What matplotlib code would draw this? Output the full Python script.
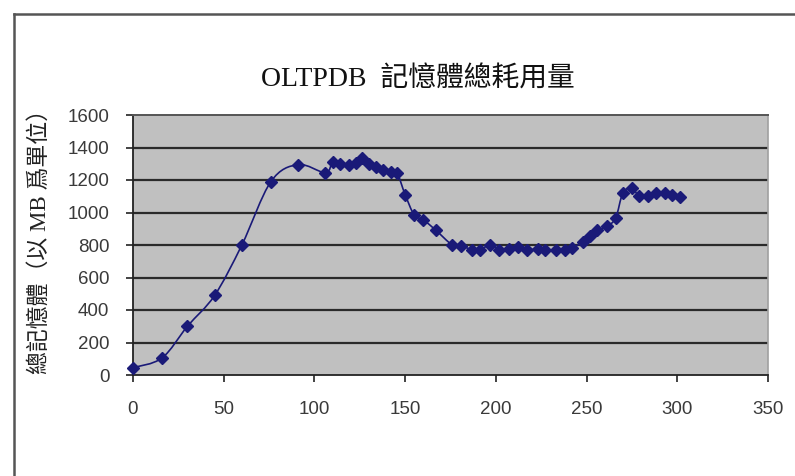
import matplotlib

matplotlib.use("Agg")
import matplotlib.pyplot as plt
import numpy as np
from matplotlib.lines import Line2D
from matplotlib.patches import PathPatch
from matplotlib.path import Path

# elapsed time vs. total memory (MB)
elapsed = [0, 16, 30, 45, 60, 76, 91, 106, 110, 114, 119, 123, 126, 130, 134, 138,
           142, 145.5, 150, 155, 160, 167, 176, 181, 187, 191, 197, 202, 207, 212,
           217, 223, 227, 233, 238, 242, 248, 252, 256, 261, 266, 270, 275, 279,
           284, 288, 293, 297, 301.5]
memory_mb = [45, 105, 300, 490, 800, 1190, 1295, 1245, 1310, 1300, 1295, 1305, 1335,
             1300, 1280, 1260, 1250, 1245, 1110, 985, 955, 890, 800, 795, 770, 770,
             800, 770, 775, 790, 770, 775, 770, 770, 770, 780, 820, 855, 890, 915,
             965, 1120, 1150, 1100, 1100, 1120, 1120, 1105, 1095]

x_ticks = [0, 50, 100, 150, 200, 250, 300, 350]
y_ticks = [0, 200, 400, 600, 800, 1000, 1200, 1400, 1600]

title = "OLTPDB  記憶體總耗用量"
y_label = "總記憶體（以 MB 爲單位）"

NAVY = "#1a1a78"


def smooth_path(ax, xs, ys):
    """Cubic Bezier path through the points (Catmull-Rom style tangents)."""
    pts = ax.transData.transform(np.column_stack([xs, ys]))
    verts = [pts[0]]
    codes = [Path.MOVETO]
    n = len(pts)
    for i in range(n - 1):
        p0 = pts[i - 1] if i > 0 else pts[i]
        p1 = pts[i]
        p2 = pts[i + 1]
        p3 = pts[i + 2] if i + 2 < n else pts[i + 1]
        c1 = p1 + (p2 - p0) / 6.0
        c2 = p2 - (p3 - p1) / 6.0
        verts += [c1, c2, p2]
        codes += [Path.CURVE4] * 3
    return Path(verts, codes)


fig = plt.figure(figsize=(7.95, 4.76), dpi=100)
ax = fig.add_axes([133 / 795, 101 / 476, 635 / 795, 260 / 476])
ax.set_facecolor("#c0c0c0")

ax.set_xlim(0, 350)
ax.set_ylim(0, 1600)
ax.set_xticks(x_ticks)
ax.set_yticks(y_ticks)
ax.tick_params(direction="out", length=5, width=1.2, color="#222222",
               labelsize=13.5)
ax.tick_params(axis="y", pad=12)
ax.tick_params(axis="x", pad=14)
for lab in ax.get_xticklabels() + ax.get_yticklabels():
    lab.set_fontfamily("Liberation Sans")
    lab.set_color("#3a3a3a")

for y in y_ticks[1:-1]:
    ax.axhline(y, color="#2a2a2a", lw=1.6, zorder=1)

ax.spines["left"].set_color("#222222")
ax.spines["bottom"].set_color("#222222")
ax.spines["left"].set_linewidth(1.3)
ax.spines["bottom"].set_linewidth(1.3)
ax.spines["top"].set_color("#555555")
ax.spines["top"].set_linewidth(1.4)
ax.spines["right"].set_color("#a0a0a0")
ax.spines["right"].set_linewidth(1.2)

fig.canvas.draw()
curve = PathPatch(smooth_path(ax, elapsed, memory_mb), transform=None,
                  facecolor="none", edgecolor=NAVY, lw=1.2, zorder=3)
ax.add_artist(curve)
ax.plot(elapsed, memory_mb, linestyle="none", marker="D", markersize=6.5,
        color=NAVY, zorder=4, clip_on=False)

fig.text(418 / 795, 1 - 80 / 476, title, ha="center", va="center", fontsize=20,
         family=["Liberation Serif", "Noto Sans CJK TC"], color="#111111")
fig.text(40 / 795, 1 - 236 / 476, y_label, rotation=90, ha="center", va="center",
         fontsize=16.5, family=["Liberation Serif", "Noto Sans CJK TC"],
         color="#222222")

# outer chart frame
frame_kw = dict(color="#555555", lw=1.8, transform=fig.transFigure)
fig.add_artist(Line2D([14 / 795, 1], [1 - 14 / 476, 1 - 14 / 476], **frame_kw))
fig.add_artist(Line2D([14 / 795, 14 / 795], [0, 1 - 14 / 476], **frame_kw))

fig.savefig("out.png", dpi=100)
